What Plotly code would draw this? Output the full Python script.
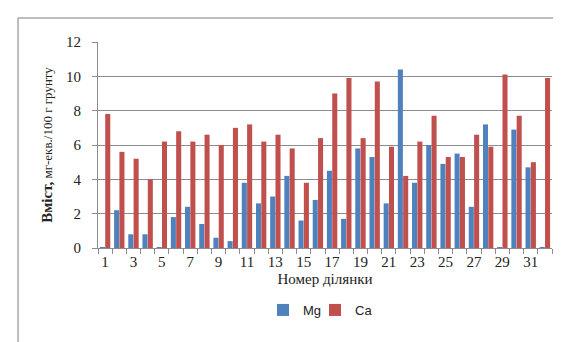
import plotly.graph_objects as go

plots = list(range(1, 33))
mg = [0.05, 2.2, 0.8, 0.8, 0.05, 1.8, 2.4, 1.4, 0.6, 0.4, 3.8, 2.6, 3.0, 4.2, 1.6, 2.8,
      4.5, 1.7, 5.8, 5.3, 2.6, 10.4, 3.8, 6.0, 4.9, 5.5, 2.4, 7.2, 0.05, 6.9, 4.7, 0.05]
ca = [7.8, 5.6, 5.2, 4.0, 6.2, 6.8, 6.2, 6.6, 6.0, 7.0, 7.2, 6.2, 6.6, 5.8, 3.8, 6.4,
      9.0, 9.9, 6.4, 9.7, 5.9, 4.2, 6.2, 7.7, 5.3, 5.3, 6.6, 5.9, 10.1, 7.7, 5.0, 9.9]
x_ticks = list(range(1, 33, 2))
y_ticks = [0, 2, 4, 6, 8, 10, 12]

serif = "Liberation Serif"
sans = "Liberation Sans"

fig = go.Figure()
fig.add_trace(go.Bar(x=plots, y=mg, name="Mg", legend="legend",
                     marker=dict(color="#4F81BD", line=dict(width=0))))
fig.add_trace(go.Bar(x=plots, y=ca, name="Ca", legend="legend2",
                     marker=dict(color="#C0504D", line=dict(width=0))))

L, R, T, B = 90, 17, 34, 102
W, H = 561, 342
pw, ph = W - L - R, H - T - B

def px_x(px):
    return (px - L) / pw

def px_y(py):
    return (H - B - py) / ph

leg_common = dict(orientation="h", yanchor="middle", xanchor="left",
                  font=dict(family=sans, size=13, color="#222"), itemwidth=30,
                  bgcolor="rgba(0,0,0,0)", borderwidth=0)

fig.update_layout(
    width=W, height=H,
    margin=dict(l=L, r=R, t=T, b=B),
    paper_bgcolor="white", plot_bgcolor="white",
    barmode="group", bargap=0.25, bargroupgap=0.05,
    showlegend=True,
    legend=dict(x=px_x(255), y=px_y(302), **leg_common),
    legend2=dict(x=px_x(307), y=px_y(302), **leg_common),
    xaxis=dict(
        range=[0.5, 32.5], tickmode="array", tickvals=x_ticks,
        ticks="", showgrid=False, showline=True, linecolor="#8c8c8c", linewidth=1,
        tickfont=dict(family=serif, size=15, color="#222"),
        minor=dict(tick0=0.5, dtick=1, ticks="outside", ticklen=5, tickcolor="#8c8c8c", showgrid=False),
        title=dict(text="Номер ділянки", font=dict(family=serif, size=15, color="#222"), standoff=4),
        zeroline=False,
    ),
    yaxis=dict(
        range=[0, 12], tickmode="array", tickvals=y_ticks,
        ticks="outside", ticklen=5, tickcolor="#8c8c8c", ticklabelstandoff=8,
        showgrid=True, gridcolor="#8c8c8c", gridwidth=1,
        showline=True, linecolor="#8c8c8c", linewidth=1,
        tickfont=dict(family=serif, size=15, color="#222"),
        title=dict(text="<b><span style='font-size:15px'>Вміст,</span></b> мг-екв./100 г грунту",
                   font=dict(family=serif, size=13, color="#222"), standoff=10),
        zeroline=False,
    ),
)

fig.add_shape(type="rect", xref="paper", yref="paper",
              x0=px_x(10), x1=px_x(W + 20), y0=px_y(H + 20), y1=px_y(10),
              line=dict(color="#7f7f7f", width=1), fillcolor="rgba(0,0,0,0)", layer="below")

fig.write_html("out.html")
